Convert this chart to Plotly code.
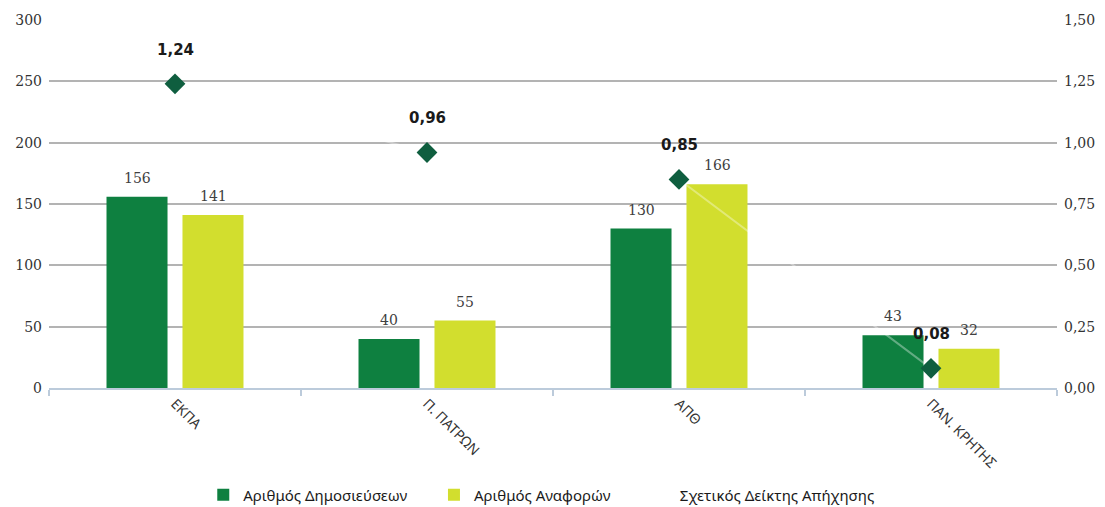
import plotly.graph_objects as go

categories = ["ΕΚΠΑ", "Π. ΠΑΤΡΩΝ", "ΑΠΘ", "ΠΑΝ. ΚΡΗΤΗΣ"]
publications = [156, 40, 130, 43]
citations = [141, 55, 166, 32]
impact_index = [1.24, 0.96, 0.85, 0.08]

name_pub = "Αριθμός Δημοσιεύσεων"
name_cit = "Αριθμός Αναφορών"
name_idx = "Σχετικός Δείκτης Απήχησης"

GREEN = "#0e8040"
YELLOW = "#d2de2e"
DIAMOND = "#0f5e3f"
SERIF = "DejaVu Serif"
SANS = "Noto Sans"

fig = go.Figure()
fig.add_trace(go.Bar(x=categories, y=publications, name=name_pub, legend="legend",
                     marker=dict(color=GREEN, line=dict(width=0))))
fig.add_trace(go.Bar(x=categories, y=citations, name=name_cit, legend="legend2",
                     marker=dict(color=YELLOW, line=dict(width=0))))
fig.add_trace(go.Scatter(x=categories, y=impact_index, name=name_idx, yaxis="y2",
                         legend="legend3",
                         mode="lines", line=dict(color="rgba(255,255,255,0.35)", width=2)))
fig.add_trace(go.Scatter(x=categories, y=impact_index, yaxis="y2", showlegend=False,
                         mode="markers",
                         marker=dict(symbol="diamond", size=16, color=DIAMOND)))

annotations = []
for c, v in zip(categories, publications):
    annotations.append(dict(x=c, y=v, xref="x", yref="y", text=str(v), showarrow=False,
                            xshift=-38, yshift=19, font=dict(family=SERIF, size=14, color="#404040")))
for c, v in zip(categories, citations):
    annotations.append(dict(x=c, y=v, xref="x", yref="y", text=str(v), showarrow=False,
                            xshift=38, yshift=19, font=dict(family=SERIF, size=14, color="#404040")))
for c, v in zip(categories, impact_index):
    annotations.append(dict(x=c, y=v, xref="x", yref="y2", text=f"{v:.2f}".replace(".", ","),
                            showarrow=False, yshift=34,
                            font=dict(family="DejaVu Sans", size=15, color="#1a1a1a", weight="bold")))

legend_common = dict(orientation="h", xanchor="left", xref="container",
                     y=0.024, yanchor="middle", yref="container",
                     font=dict(family=SANS, size=15, color="#1a1a1a"),
                     itemwidth=30, bgcolor="rgba(0,0,0,0)")

fig.update_layout(
    width=1097, height=499,
    margin=dict(l=41, r=48, t=12, b=119, autoexpand=False),
    plot_bgcolor="white", paper_bgcolor="white",
    barmode="group", bargap=0.397, bargroupgap=0.197,
    separators=",.",
    showlegend=True,
    legend=dict(x=0.178, **legend_common),
    legend2=dict(x=0.3883, **legend_common),
    legend3=dict(x=0.576, **legend_common),
    annotations=annotations,
    xaxis=dict(showline=True, linecolor="#bccbdb", linewidth=2, showgrid=False,
               ticks="outside", tickcolor="#bccbdb", ticklen=6, tickwidth=2,
               tickson="boundaries", tickangle=45, automargin=False,
               tickfont=dict(family=SANS, size=14, color="#333333")),
    yaxis=dict(range=[0, 300], dtick=50, showgrid=True, gridcolor="#b3b3b3", gridwidth=2,
               zeroline=False, showline=False, automargin=False, ticklabelstandoff=6,
               tickfont=dict(family=SERIF, size=14, color="#333333")),
    yaxis2=dict(range=[0, 1.5], dtick=0.25, tickformat=".2f", overlaying="y", side="right",
                showgrid=False, zeroline=False, showline=False, automargin=False,
                ticklabelstandoff=6,
                tickfont=dict(family=SERIF, size=14, color="#333333")),
)

fig.write_html("out.html")
